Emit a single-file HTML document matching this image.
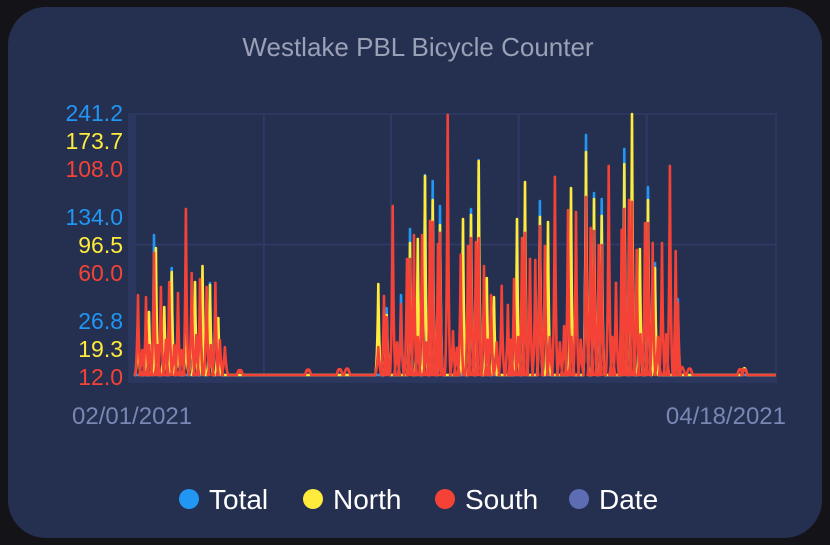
<!DOCTYPE html>
<html><head><meta charset="utf-8"><style>
html,body{margin:0;padding:0;background:#141418;width:830px;height:545px;overflow:hidden}
body{font-family:"Liberation Sans",sans-serif}
#card{position:absolute;left:8px;top:7px;width:814px;height:531px;border-radius:38px;background:#252f50}
</style></head><body>
<div id="card"></div>
<svg id="chart" width="830" height="545" style="position:absolute;left:0;top:0">
<text x="418" y="56" text-anchor="middle" font-size="26" fill="#9aa0b6">Westlake PBL Bicycle Counter</text>
<rect x="128" y="113" width="649" height="270" fill="#2c375f"/>
<rect x="136" y="115" width="639" height="260" fill="#252f50"/>
<g id="grid"></g>
<g id="yaxis"></g>
<g id="series"></g>
<text x="72" y="424" font-size="24" fill="#7a86b4">02/01/2021</text>
<text x="786" y="424" text-anchor="end" font-size="24" fill="#7a86b4">04/18/2021</text>
<g>
<g><circle cx="189" cy="499" r="10" fill="#2196f3"/><text x="209" y="509" font-size="28" fill="#fff">Total</text></g>
<g><circle cx="313" cy="499" r="10" fill="#ffeb3b"/><text x="333" y="509" font-size="28" fill="#fff">North</text></g>
<g><circle cx="445" cy="499" r="10" fill="#f44336"/><text x="465" y="509" font-size="28" fill="#fff">South</text></g>
<g><circle cx="579" cy="499" r="10" fill="#5c6db3"/><text x="599" y="509" font-size="28" fill="#fff">Date</text></g>
</g>
</svg>
<script>
// x domain in days since 02/01/2021
const xDomain = [0, 77];
const totalTicks = ["26.8", "134.0", "241.2"];
const northTicks = ["19.3", "96.5", "173.7"];
const southTicks = ["12.0", "60.0", "108.0"];
const totalRange = [26.8, 241.2];
const northRange = [19.3, 173.7];
const southRange = [12.0, 108.0];
// [day, value] observations
const totalData = [[2.17,141.8],[4.3,114.7],[8.9,102.4],[30.16,81.8],[31.88,92.5],[32.96,146.7],[34.77,191.1],[35.7,186.2],[36.57,165.6],[40.3,163.2],[41.23,203.4],[48.6,169.7],[54.14,224],[55.1,176.3],[56.03,171.4],[58.75,212.5],[61.6,181.2],[62.44,118.8],[65.2,89.2]];
const northData = [[0.24,43],[1.2,40],[1.56,56.6],[2.4,94.4],[3.4,59.5],[4.3,80.2],[5.05,37],[6.0,43],[6.7,54.8],[7.1,74.3],[8.0,83.8],[8.9,72.5],[9.9,53],[29.15,73.1],[30.16,54.8],[32.96,97.4],[33.9,99.8],[34.77,137],[35.7,122.8],[36.57,108],[39.34,111.6],[40.3,114],[41.23,145.9],[42.2,76.7],[43.07,65.4],[45.84,111.6],[46.8,133.5],[48.6,112.8],[49.57,109.8],[52.33,129.9],[54.14,151.2],[55.1,123.4],[56.03,113.4],[58.75,144.1],[59.67,173.7],[60.63,93.8],[61.6,122.8],[62.44,82.6],[73.2,23]];
const southData = [[0.24,41.4],[0.75,21.2],[1.2,40.7],[1.6,23],[2.17,56.9],[2.6,23],[3.0,44.4],[3.6,24.9],[4.0,46.2],[4.6,23],[5.05,42.2],[5.5,21.2],[6.0,73.1],[6.7,49.5],[7.25,26.7],[7.7,47.3],[8.5,44.4],[9.0,23],[9.55,45.9],[10.1,24.9],[10.7,22.3],[12.5,13.1],[20.7,13.5],[24.5,13.8],[25.4,14.2],
[29.15,22.3],[29.84,41.1],[30.16,33.3],[30.88,74.2],[31.4,24],[31.88,38.1],[32.6,54.7],[32.96,54.7],[33.45,63.5],[33.9,26],[34.41,63.5],[34.9,24],[35.37,68.7],[35.7,68.3],[36.33,60.2],[36.57,64.3],[37.5,107.7],[38.14,28.2],[38.6,22],[39.06,56.2],[39.94,59.5],[40.3,62.4],[40.9,60.9],[41.23,62.4],[41.87,52.1],[42.3,25],[42.71,41.4],[43.4,24],[44,44.8],[44.75,37.8],[45.1,25],[45.48,47.3],[46.0,26],[46.44,62.4],[46.8,64.3],[47.4,54.7],[48.04,54.3],[48.6,66.8],[49.2,59.5],[49.8,26],[50.4,84.9],[51.0,24],[51.5,30],[51.97,72.7],[52.4,26],[52.94,72],[53.5,25],[54.14,77.5],[54.7,66.1],[55.1,65],[55.67,59.8],[56.03,59.8],[56.87,88.9],[57.3,26],[57.75,45.9],[58.43,65.4],[58.75,73.1],[59.31,76.4],[59.67,75.7],[60.24,58],[60.7,27],[61.24,67.9],[61.6,67.9],[62.16,60.6],[62.8,26],[63.28,60.6],[63.8,27],[64.24,88.9],[64.93,57.6],[65.2,38.5],[65.7,14.9],[66.6,14.2],[72.7,13.8],[73.2,13.6]];

const X0 = 136, X1 = 776, YB = 375, YT = 114;
function xScale(d){ return X0 + (d - xDomain[0]) / (xDomain[1] - xDomain[0]) * (X1 - X0); }
function yScale(v, r){ return YB - (v - r[0]) / (r[1] - r[0]) * (YB - YT); }
const NS = "http://www.w3.org/2000/svg";

const grid = document.getElementById('grid');
const gridDays = [15.38, 30.67, 46.05, 61.45];
gridDays.forEach(function(d){
  const l = document.createElementNS(NS, 'line');
  
  
  const x = xScale(d);
  l.setAttribute('x1', x); l.setAttribute('x2', x); l.setAttribute('y1', YT); l.setAttribute('y2', YB);
  l.setAttribute('stroke', '#2f3a64'); l.setAttribute('stroke-width', '2');
  grid.appendChild(l);
});
const hl = document.createElementNS(NS, 'line');


hl.setAttribute('x1', X0); hl.setAttribute('x2', X1);
hl.setAttribute('y1', yScale(60, southRange)); hl.setAttribute('y2', yScale(60, southRange));
hl.setAttribute('stroke', '#2f3a64'); hl.setAttribute('stroke-width', '2');
grid.appendChild(hl);

const yaxis = document.getElementById('yaxis');
const rowBase = [329, 225, 121];
function addTicks(ticks, color, off){
  ticks.forEach(function(t, i){
    const tx = document.createElementNS(NS, 'text');
    
    
    tx.setAttribute('x', 123);
    tx.setAttribute('y', rowBase[i] + off);
    tx.setAttribute('text-anchor', 'end');
    tx.setAttribute('font-size', '23');
    tx.setAttribute('fill', color);
    tx.textContent = t;
    yaxis.appendChild(tx);
  });
}
addTicks(totalTicks, '#2196f3', 0);
addTicks(northTicks, '#ffeb3b', 28);
addTicks(southTicks, '#f44336', 56);

const series = document.getElementById('series');
function drawSeries(data, range, color, name){
  const pts = data.slice().sort(function(a,b){return a[0]-b[0];});
  let d = 'M' + X0 + ' ' + YB;
  pts.forEach(function(p){
    const x = xScale(p[0]);
    const y = yScale(p[1], range);
    d += ' L' + (x - 3).toFixed(1) + ' ' + YB + ' Q' + (x - 1).toFixed(1) + ' ' + (YB - 8) + ' ' + x.toFixed(1) + ' ' + y.toFixed(1) + ' Q' + (x + 1).toFixed(1) + ' ' + (YB - 8) + ' ' + (x + 3).toFixed(1) + ' ' + YB;
  });
  d += ' L' + X1 + ' ' + YB;
  const path = document.createElementNS(NS, 'path');
  
  
  path.setAttribute('d', d);
  path.setAttribute('fill', 'none');
  path.setAttribute('stroke', color);
  path.setAttribute('stroke-width', '2.6');
  path.setAttribute('stroke-linejoin', 'round');
  series.appendChild(path);
}
drawSeries(totalData, totalRange, '#2196f3', 'total-line');
drawSeries(northData, northRange, '#ffeb3b', 'north-line');
drawSeries(southData, southRange, '#f44336', 'south-line');
</script>
</body></html>
